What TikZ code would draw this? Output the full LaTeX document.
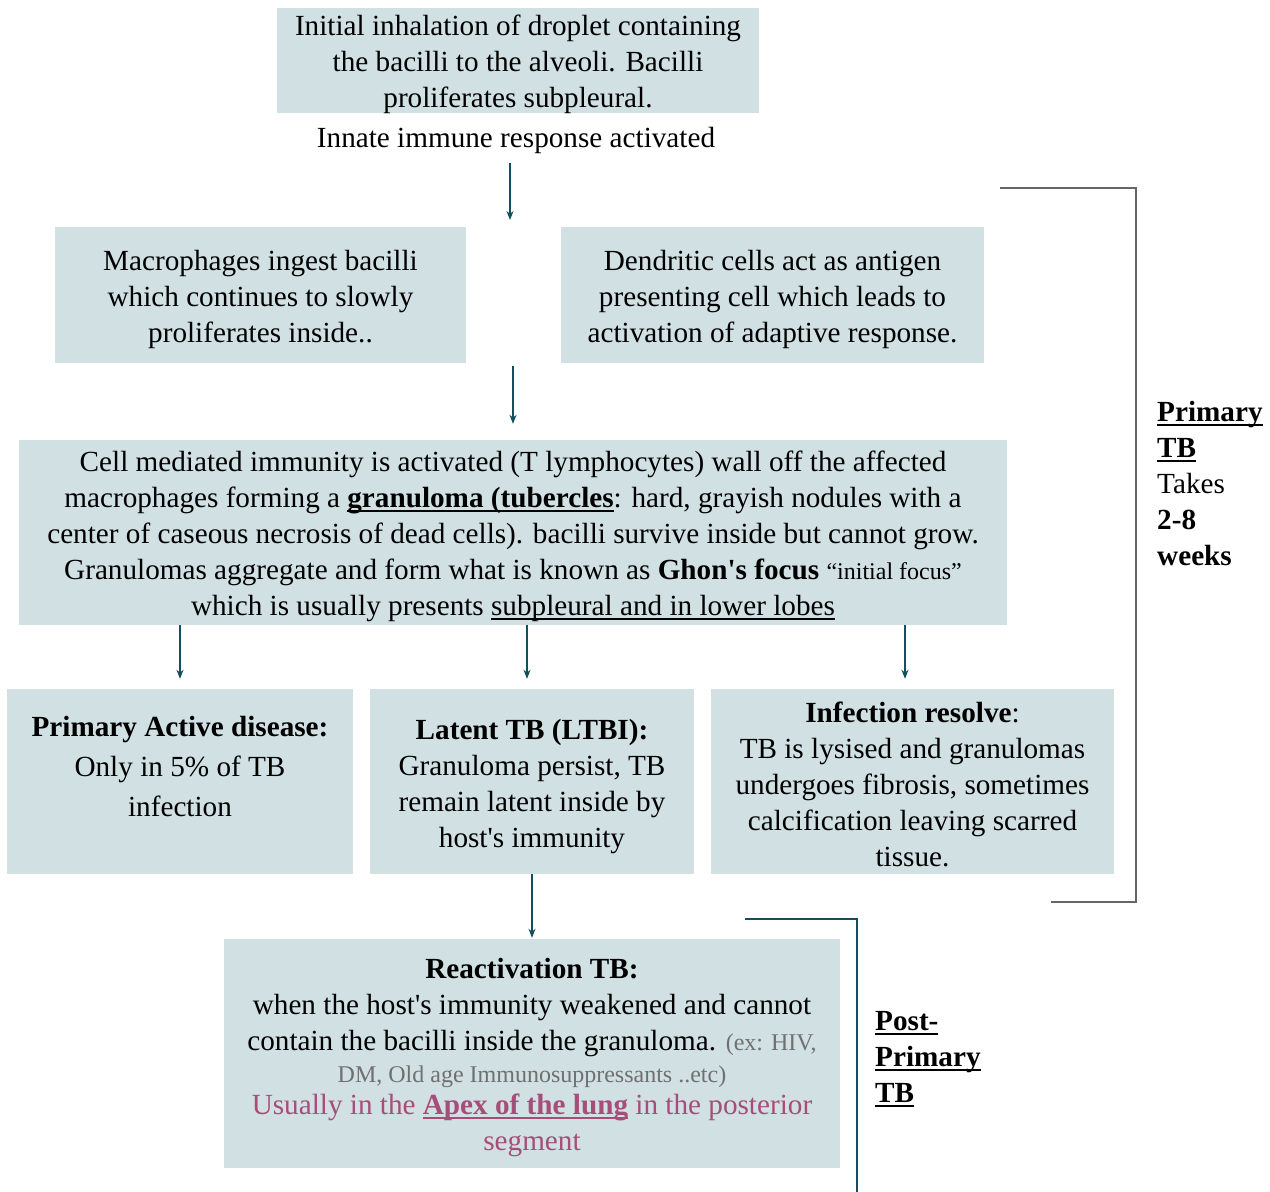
\documentclass[tikz,border=0pt]{standalone}
\usepackage{fontspec}
\setmainfont{Liberation Serif}[Ligatures=TeXOff]
\usetikzlibrary{arrows.meta}
\definecolor{boxcol}{HTML}{D0E0E3}
\definecolor{arrcol}{HTML}{134F5C}
\definecolor{brackgray}{HTML}{666666}
\definecolor{pinktxt}{HTML}{A64D79}
\definecolor{graytxt}{HTML}{707070}
\newcommand\myul[1]{\setbox0\hbox{#1}\rlap{\rule[-4.5pt]{\wd0}{2pt}}\box0}
\newcommand\smallfnt{\fontsize{24}{30}\selectfont}
\tikzset{
  box/.style={fill=boxcol, draw=none, inner sep=0pt, align=center},
  txt/.style={inner sep=0pt, align=center, font=\fontsize{29.2}{36}\selectfont},
  arr/.style={draw=arrcol, line width=1.4pt, -{Stealth[length=9pt,width=7pt]}},
  brackP/.style={draw=brackgray, line width=1.6pt},
  brackQ/.style={draw=arrcol, line width=1.6pt},
}
\begin{document}
\begin{tikzpicture}[x=1pt,y=-1pt]
\useasboundingbox (0,0) rectangle (1270,1192);
% boxes
\node[box, minimum width=482pt, minimum height=105pt] (b1) at (518,60.5) {};
\node[txt] (t1) at (518,64) {Initial inhalation of droplet containing\\the bacilli to the alveoli. Bacilli\\proliferates subpleural.};
\node[txt] (innate) at (516,140) {Innate immune response activated};

\node[box, minimum width=411pt, minimum height=136pt] (b2) at (260.5,295) {};
\node[txt] (t2) at (260.5,299) {Macrophages ingest bacilli\\which continues to slowly\\proliferates inside..};

\node[box, minimum width=423pt, minimum height=136pt] (b3) at (772.5,295) {};
\node[txt] (t3) at (772.5,299) {Dendritic cells act as antigen\\presenting cell which leads to\\activation of adaptive response.};

\node[box, minimum width=988pt, minimum height=185pt] (b4) at (513,532.5) {};
\node[txt] (t4) at (513,536) {Cell mediated immunity is activated (T lymphocytes) wall off the affected\\
macrophages forming a \textbf{\myul{granuloma (tubercles}}: hard, grayish nodules with a\\
center of caseous necrosis of dead cells). bacilli survive inside but cannot grow.\\
Granulomas aggregate and form what is known as \textbf{Ghon's focus} {\smallfnt “initial focus”}\\
which is usually presents \myul{subpleural and in lower lobes}};

\node[box, minimum width=346pt, minimum height=185pt] (b5) at (180,781.5) {};
\node[txt, font=\fontsize{29.2}{40}\selectfont] (t5) at (180,767) {\textbf{Primary Active disease:}\\Only in 5\% of TB\\infection};

\node[box, minimum width=324pt, minimum height=185pt] (b6) at (532,781.5) {};
\node[txt] (t6) at (532,787) {\textbf{Latent TB (LTBI):}\\Granuloma persist, TB\\remain latent inside by\\host's immunity};

\node[box, minimum width=403pt, minimum height=185pt] (b7) at (912.5,781.5) {};
\node[txt] (t7) at (912.5,784) {\textbf{Infection resolve}:\\TB is lysised and granulomas\\undergoes fibrosis, sometimes\\calcification leaving scarred\\tissue.};

\node[box, minimum width=616pt, minimum height=229pt] (b8) at (532,1053.5) {};
\node[txt] (t8) at (532,1058) {\textbf{Reactivation TB:}\\
when the host's immunity weakened and cannot\\
contain the bacilli inside the granuloma. {\smallfnt\color{graytxt}(ex: HIV,}\\[-4pt]
{\smallfnt\color{graytxt}DM, Old age Immunosuppressants ..etc)}\\[-4pt]
{\color{pinktxt}Usually in the \textbf{\myul{Apex of the lung}} in the posterior}\\
{\color{pinktxt}segment}};

% side labels
\node[txt, align=left, anchor=west] (lp) at (1157,484) {\textbf{\myul{Primary}}\\\textbf{\myul{TB}}\\Takes\\\textbf{2-8}\\\textbf{weeks}};
\node[txt, align=left, anchor=west] (lq) at (875,1059) {\textbf{\myul{Post-}}\\\textbf{\myul{Primary}}\\\textbf{\myul{TB}}};

% connectors
\coordinate (a1s) at (510,163);
\coordinate (a1e) at (510,220);
\coordinate (a2s) at (513,366);
\draw[arr] (a1s) -- (a1e);
\draw[arr] (a2s) -- ([yshift=16pt]b4.north -| a2s);
\draw[arr] (b4.south -| b5) -- ([yshift=10pt]b5.north);
\draw[arr] (b4.south -| 527,0) -- ([yshift=10pt]b6.north -| 527,0);
\draw[arr] (b4.south -| 905,0) -- ([yshift=10pt]b7.north -| 905,0);
\draw[arr] (b6.south) -- ([yshift=1pt]b8.north);

% brackets
\draw[brackP] (1000,188) -- (1136,188) -- (1136,902) -- (1051,902);
\draw[brackQ] (745,919) -- (857,919) -- (857,1192);
\end{tikzpicture}
\end{document}
